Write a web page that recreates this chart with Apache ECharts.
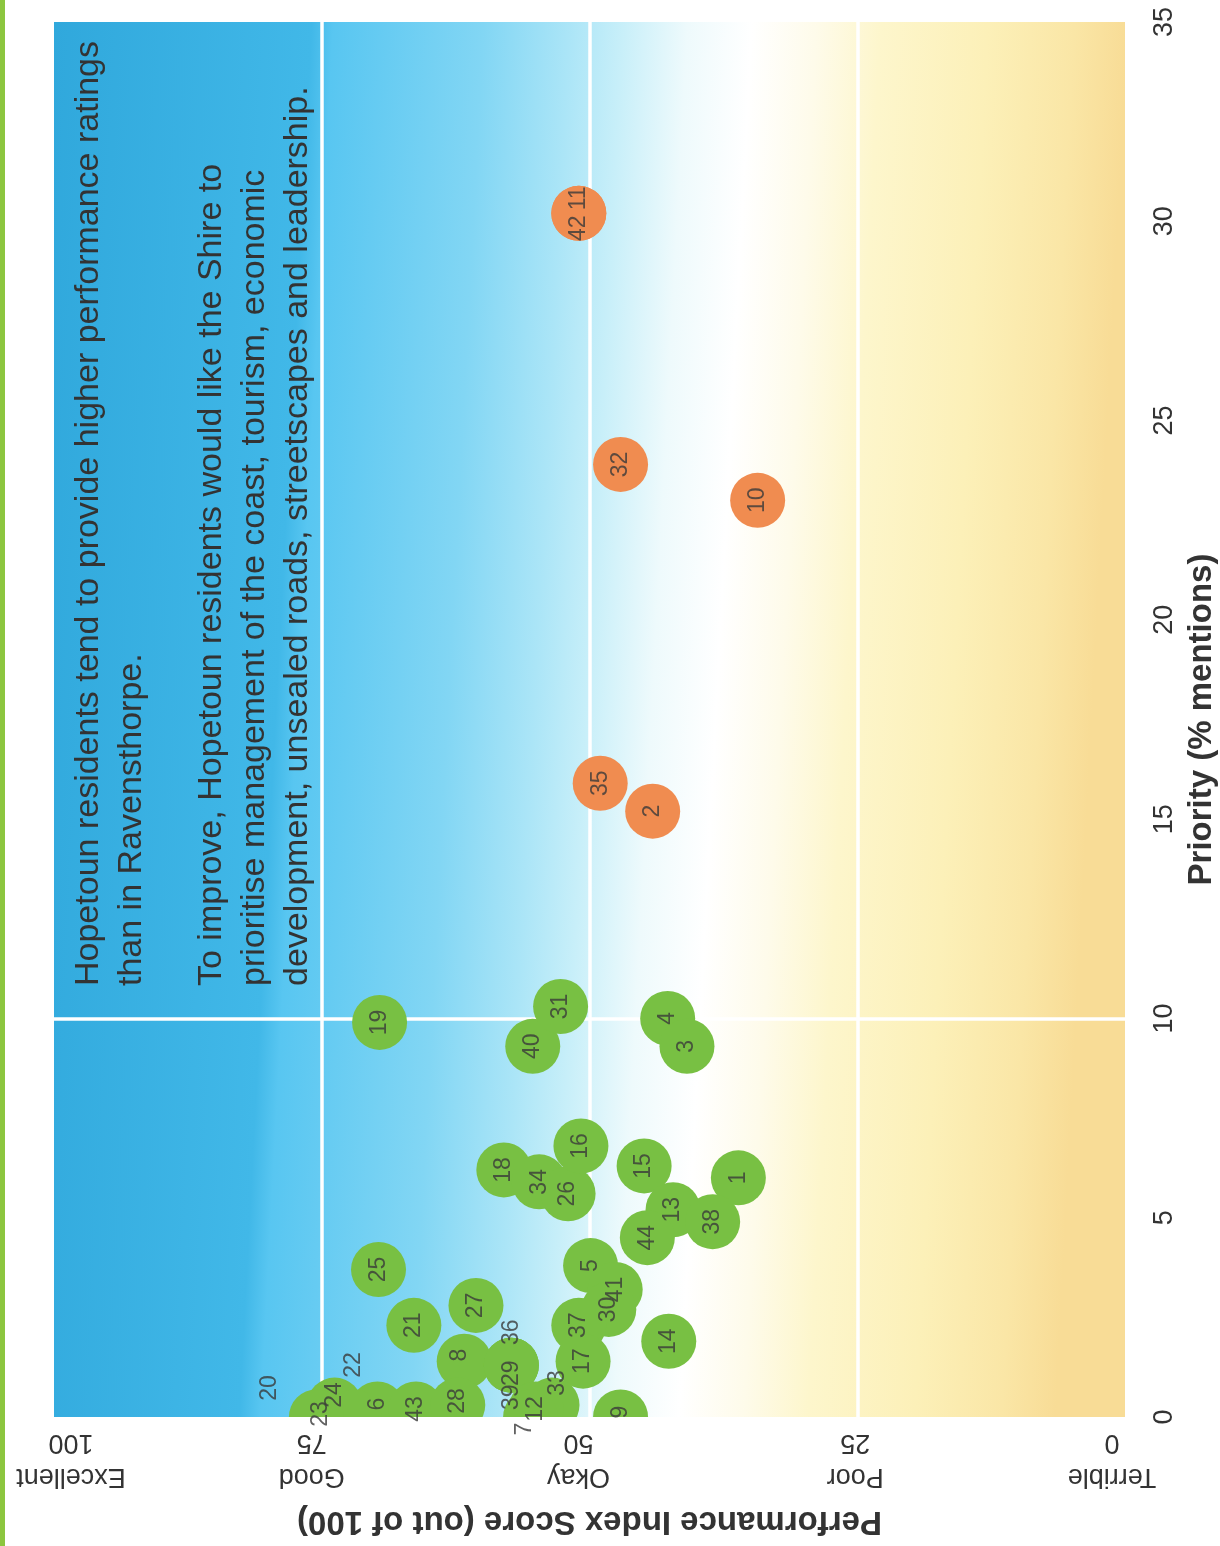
<!DOCTYPE html>
<html>
<head>
<meta charset="utf-8">
<script src="https://cdn.jsdelivr.net/npm/echarts@6/dist/echarts.min.js"></script>
<style>
html,body{margin:0;padding:0;background:#fff;}
#c{width:1220px;height:1546px;}
</style>
</head>
<body>
<div id="c"></div>
<script>
// ---- data ----
const greenIds   = [19, 40, 31, 4, 3, 18, 34, 26, 16, 15, 1, 13, 38, 44, 25, 5, 41, 30, 37, 17, 14, 21, 27, 8, 39, 29, 36, 33, 12, 7, 9, 6, 43, 28, 23, 24, 22, 20];
const greenPerf  = [69.6, 55.3, 52.7, 42.7, 40.9, 58.0, 54.7, 52.0, 50.8, 44.9, 36.1, 42.2, 38.5, 44.6, 69.7, 49.9, 47.6, 48.2, 51.0, 50.6, 42.6, 66.4, 60.6, 61.7, 57.3, 57.3, 57.3, 53.5, 55.0, 55.5, 47.1, 69.8, 66.2, 62.3, 75.1, 73.8, 72.0, 75.5];
const greenPrio  = [9.9, 9.3, 10.3, 10.0, 9.3, 6.2, 5.9, 5.6, 6.8, 6.3, 6.0, 5.2, 4.9, 4.5, 3.7, 3.8, 3.2, 2.7, 2.3, 1.4, 1.9, 2.3, 2.8, 1.4, 1.3, 1.3, 1.3, 0.3, 0.2, 0.0, 0.0, 0.2, 0.2, 0.3, 0.0, 0.3, 0.0, 0.0];

const orangeIds  = [42, 11, 32, 10, 35, 2];
const orangePerf = [51.0, 51.0, 47.1, 34.3, 49.0, 44.1];
const orangePrio = [30.2, 30.2, 23.9, 23.0, 15.9, 15.2];

const perfTicks     = [0, 25, 50, 75, 100];
const perfTickNames = ['Terrible', 'Poor', 'Okay', 'Good', 'Excellent'];
const prioTicks     = [0, 5, 10, 15, 20, 25, 30, 35];
const perfDividers  = [75, 50, 25];
const prioDividers  = [10];

const note1 = 'Hopetoun residents tend to provide higher performance ratings\nthan in Ravensthorpe.';
const note2 = 'To improve, Hopetoun residents would like the Shire to\nprioritise management of the coast, tourism, economic\ndevelopment, unsealed roads, streetscapes and leadership.';

// label nudges on screen (layout only, pixels: [right, down])
const labelNudge = {
  42: [0, 15], 11: [0, -15],
  39: [0, 32], 29: [0, 8], 36: [0, -33],
  33: [6, -22], 7: [-6, 12], 9: [0, -5], 6: [0, -5], 28: [0, -4],
  23: [0, -3], 24: [0, -10], 22: [0, -52], 20: [-47, -29], 8: [-5, -6]
};
// horizontal nudge for the score tick labels (layout only, pixels)
const tickLabelShift = { 100: 17, 75: -10, 50: -11, 25: -2, 0: -13 };

// ---- build ----
const FONT = "'Liberation Sans', Arial, sans-serif";
const GREEN = '#78c043', ORANGE = '#f08c50';
const R = 27.5;

function pts(ids, perf, prio) {
  return ids.map((id, i) => ({ value: [perf[i], prio[i], id], name: String(id) }));
}
function labelPts(ids, perf, prio) {
  return ids.map((id, i) => {
    const o = { value: [perf[i], prio[i], id], name: String(id) };
    const n = labelNudge[id];
    // labels are rotated 90deg, so the offset is given in the rotated frame
    if (n) o.label = { offset: [-n[1], n[0]] };
    return o;
  });
}
const circleRender = (params, api) => {
  const p = api.coord([api.value(0), api.value(1)]);
  return { type: 'circle', shape: { cx: p[0], cy: p[1], r: R }, style: { fill: api.visual('color') } };
};

// rich styles for shifting tick labels (rotated 180deg: local right pad => screen shift right)
const rich = {};
perfTicks.forEach(v => {
  const s = tickLabelShift[v] || 0;
  rich['t' + v] = {
    fontSize: 27, color: '#333', lineHeight: 34, fontFamily: FONT,
    padding: s >= 0 ? [0, 2 * s, 0, 0] : [0, 0, 0, -2 * s]
  };
});

const chart = echarts.init(document.getElementById('c'), null, { renderer: 'canvas' });
chart.setOption({
  animation: false,
  backgroundColor: '#ffffff',
  textStyle: { fontFamily: FONT },
  grid: {
    left: 54, right: 95, top: 22, bottom: 129,
    containLabel: false, outerBoundsMode: 'none',
    show: true, borderWidth: 0,
    backgroundColor: {
      type: 'linear', x: 0, y: 0, x2: 1, y2: 0.04,
      colorStops: [
        { offset: 0.00, color: '#30a8dc' },
        { offset: 0.24, color: '#41b8e8' },
        { offset: 0.26, color: '#58c6f1' },
        { offset: 0.40, color: '#82d6f4' },
        { offset: 0.48, color: '#abe5f7' },
        { offset: 0.53, color: '#c8eff9' },
        { offset: 0.59, color: '#eefafc' },
        { offset: 0.65, color: '#ffffff' },
        { offset: 0.71, color: '#fefbea' },
        { offset: 0.77, color: '#fdf6cc' },
        { offset: 0.87, color: '#fcf0b8' },
        { offset: 0.95, color: '#fae6a6' },
        { offset: 1.00, color: '#f8dc96' }
      ]
    }
  },
  xAxis: {
    type: 'value', min: 0, max: 100, interval: 25, inverse: true, position: 'bottom',
    axisLine: { show: false }, axisTick: { show: false }, splitLine: { show: false },
    axisLabel: {
      rotate: 180, fontSize: 27, color: '#333', lineHeight: 34, margin: 8, fontFamily: FONT,
      rich: rich,
      formatter: v => {
        const i = perfTicks.indexOf(v);
        return '{t' + v + '|' + perfTickNames[i] + '}\n{t' + v + '|' + v + '}';
      }
    },
    name: 'Performance Index Score (out of 100)', nameLocation: 'middle', nameRotate: 180, nameGap: 88,
    nameTextStyle: { fontSize: 33, fontWeight: 'bold', color: '#333', fontFamily: FONT }
  },
  yAxis: {
    type: 'value', min: 0, max: 35, interval: 5, position: 'right',
    axisLine: { show: false }, axisTick: { show: false }, splitLine: { show: false },
    axisLabel: { rotate: 90, fontSize: 27, color: '#333', margin: 26, fontFamily: FONT,
      formatter: v => prioTicks.indexOf(v) >= 0 ? String(v) : '' },
    name: 'Priority (% mentions)', nameLocation: 'middle', nameRotate: 90, nameGap: 56,
    nameTextStyle: { fontSize: 33, fontWeight: 'bold', color: '#333', fontFamily: FONT }
  },
  graphic: [
    { type: 'rect', left: 0, top: 0, shape: { width: 5, height: 1546 }, style: { fill: '#8cc63f' }, silent: true },
    { type: 'text', x: 67, y: 986, rotation: Math.PI / 2, z: 10, silent: true,
      style: { text: note1, fill: '#333', fontSize: 34, fontFamily: FONT, lineHeight: 43, align: 'left', verticalAlign: 'top' } },
    { type: 'text', x: 190, y: 986, rotation: Math.PI / 2, z: 10, silent: true,
      style: { text: note2, fill: '#333', fontSize: 34, fontFamily: FONT, lineHeight: 43, align: 'left', verticalAlign: 'top' } }
  ],
  series: [
    {
      type: 'custom', name: 'green', clip: true, silent: true, z: 2,
      itemStyle: { color: GREEN },
      renderItem: circleRender,
      data: pts(greenIds, greenPerf, greenPrio),
      markLine: {
        silent: true, symbol: 'none', z: 1, animation: false,
        label: { show: false },
        lineStyle: { color: '#ffffff', width: 3.5, type: 'solid', opacity: 1 },
        data: perfDividers.map(v => ({ xAxis: v })).concat(prioDividers.map(v => ({ yAxis: v })))
      }
    },
    {
      type: 'custom', name: 'orange', clip: true, silent: true, z: 2,
      itemStyle: { color: ORANGE },
      renderItem: circleRender,
      data: pts(orangeIds, orangePerf, orangePrio)
    },
    {
      type: 'scatter', name: 'labels', silent: true, z: 4,
      symbolSize: 2, itemStyle: { color: 'rgba(0,0,0,0)' },
      label: { show: true, position: 'inside', rotate: 90, fontSize: 23, color: '#3a3a3a', fontFamily: FONT,
        formatter: p => String(p.value[2]) },
      data: labelPts(greenIds, greenPerf, greenPrio).concat(labelPts(orangeIds, orangePerf, orangePrio))
    }
  ]
});
</script>
</body>
</html>
